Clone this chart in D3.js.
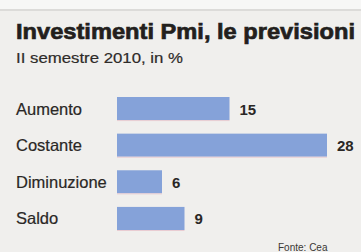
<!DOCTYPE html>
<html>
<head>
<meta charset="utf-8">
<script src="https://cdn.jsdelivr.net/npm/d3@7"></script>
<style>
  body { margin: 0; background: #f1f0ee; }
  svg { display: block; }
</style>
</head>
<body>
<svg width="361" height="252"></svg>
<script>
var categories = ["Aumento", "Costante", "Diminuzione", "Saldo"];
var values = [15, 28, 6, 9];

var svg = d3.select("svg"),
    width = +svg.attr("width"),
    height = +svg.attr("height");

svg.append("rect")
    .attr("width", width)
    .attr("height", height)
    .attr("fill", "#f0efed");

// faint band at the top of the clipping
svg.append("rect")
    .attr("y", 0)
    .attr("width", width)
    .attr("height", 9)
    .attr("fill", "#f7f7f6");
svg.append("line")
    .attr("x1", 0).attr("x2", width)
    .attr("y1", 10).attr("y2", 10)
    .attr("stroke", "#dcdbd9")
    .attr("stroke-width", 2);

var x = d3.scaleLinear()
    .domain([0, 28])
    .range([117, 327]);

var y = d3.scaleBand()
    .domain(categories)
    .range([97, 230])
    .paddingInner(0.37)
    .paddingOuter(0);

svg.append("text")
    .attr("x", 16)
    .attr("y", 39)
    .attr("fill", "#231f1d")
    .attr("stroke", "#231f1d")
    .attr("stroke-width", 0.7)
    .attr("font-family", "Liberation Sans, Arial, sans-serif")
    .attr("font-weight", "bold")
    .attr("font-size", 22)
    .attr("textLength", 339)
    .attr("lengthAdjust", "spacingAndGlyphs")
    .text("Investimenti Pmi, le previsioni");

svg.append("text")
    .attr("x", 16)
    .attr("y", 63)
    .attr("fill", "#2e2b29")
    .attr("stroke", "#2e2b29")
    .attr("stroke-width", 0.2)
    .attr("font-family", "Liberation Sans, Arial, sans-serif")
    .attr("font-size", 14.5)
    .attr("textLength", 167)
    .attr("lengthAdjust", "spacingAndGlyphs")
    .text("II semestre 2010, in %");

var rows = svg.append("g")
  .selectAll("g")
  .data(categories)
  .enter().append("g");

rows.append("rect")
    .attr("x", x(0))
    .attr("y", function(d) { return y(d); })
    .attr("width", function(d, i) { return x(values[i]) - x(0); })
    .attr("height", y.bandwidth())
    .attr("fill", "#85a2d9");

// thin pink edge under each bar, like the print
rows.append("rect")
    .attr("x", x(0))
    .attr("y", function(d) { return y(d) + y.bandwidth(); })
    .attr("width", function(d, i) { return x(values[i]) - x(0); })
    .attr("height", 1)
    .attr("fill", "#e9ccd2");

rows.append("text")
    .attr("x", 16)
    .attr("y", function(d) { return y(d) + y.bandwidth() / 2 + 6; })
    .attr("fill", "#2a2725")
    .attr("stroke", "#2a2725")
    .attr("stroke-width", 0.2)
    .attr("font-family", "Liberation Sans, Arial, sans-serif")
    .attr("font-size", 16.5)
    .text(function(d) { return d; });

rows.append("text")
    .attr("x", function(d, i) { return x(values[i]) + 10; })
    .attr("y", function(d) { return y(d) + y.bandwidth() / 2 + 6; })
    .attr("fill", "#2a2725")
    .attr("font-family", "Liberation Sans, Arial, sans-serif")
    .attr("font-weight", "bold")
    .attr("font-size", 15)
    .text(function(d, i) { return values[i]; });

svg.append("text")
    .attr("x", 278)
    .attr("y", 251)
    .attr("fill", "#3a3735")
    .attr("font-family", "Liberation Sans, Arial, sans-serif")
    .attr("font-size", 10)
    .text("Fonte: Cea");
</script>
</body>
</html>
